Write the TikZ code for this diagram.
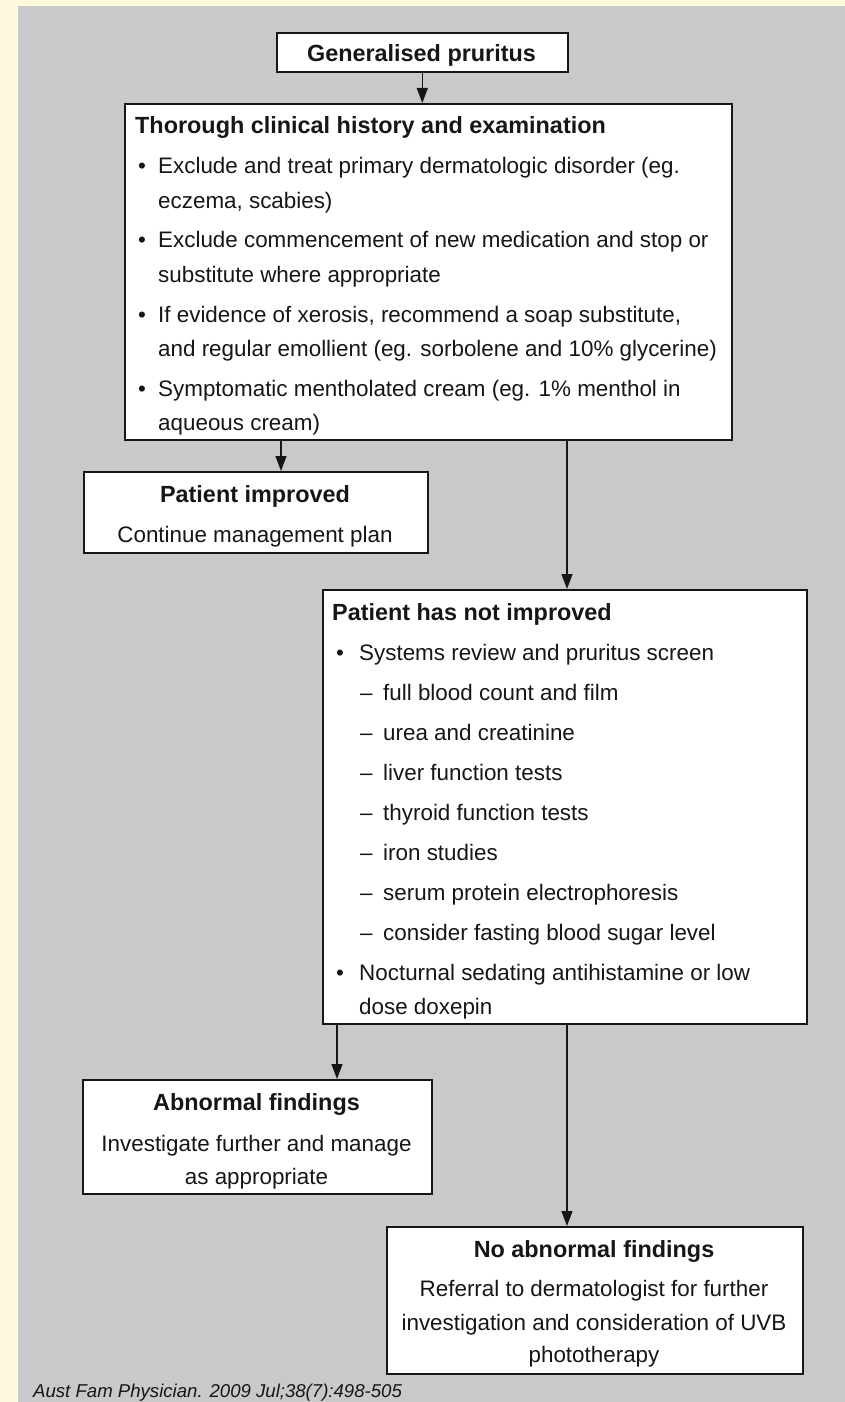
\documentclass[tikz,border=0pt]{standalone}
\usepackage{fontspec}
\setmainfont{Liberation Sans}
\usetikzlibrary{arrows.meta}
\definecolor{cream}{RGB}{255,249,222}
\definecolor{panel}{RGB}{200,201,203}
\definecolor{ink}{RGB}{22,22,22}
\newcommand\myreg{\fontsize{22.4}{26}\selectfont}
\newcommand\mybold{\fontsize{23.4}{27}\selectfont\bfseries}
\newcommand\mycite{\fontsize{18.6}{22}\selectfont\itshape}
\tikzset{
  box/.style={draw=ink, line width=1.6pt, fill=white, inner sep=0pt, anchor=north west},
  txt/.style={inner sep=0pt, anchor=base west, font=\myreg, text=ink},
  ttl/.style={inner sep=0pt, anchor=base west, font=\mybold, text=ink},
  ctxt/.style={inner sep=0pt, anchor=base, font=\myreg, text=ink},
  cttl/.style={inner sep=0pt, anchor=base, font=\mybold, text=ink},
  arr/.style={draw=ink, line width=1.3pt, -{Triangle[length=15pt,width=11pt]}},
}
\begin{document}
\begin{tikzpicture}[x=1pt,y=-1pt]
\fill[cream] (0,0) rectangle (845,1402);
\useasboundingbox (0,0) rectangle (845,1402);
\fill[panel] (18,6) rectangle (845,1402);

% boxes
\node[box, minimum width=291pt, minimum height=39pt]  (gen)    at (276,32)   {};
\node[box, minimum width=607pt, minimum height=336pt] (hist)   at (124,103)  {};
\node[box, minimum width=344pt, minimum height=81pt]  (imp)    at (83,471)   {};
\node[box, minimum width=484pt, minimum height=434pt] (notimp) at (322,589)  {};
\node[box, minimum width=349pt, minimum height=114pt] (abn)    at (82,1079)  {};
\node[box, minimum width=416pt, minimum height=147pt] (noabn)  at (386,1226) {};

% connector start points
\coordinate (c2) at (281,439);
\coordinate (c3) at (567,439);
\coordinate (c4) at (337,1023);
\coordinate (c5) at (567,1023);

% connectors
\draw[arr] (gen.south) -- (gen.south |- hist.north);
\draw[arr] (c2) -- (c2 |- imp.north);
\draw[arr] (c3) -- (c3 |- notimp.north);
\draw[arr] (c4) -- (c4 |- abn.north);
\draw[arr] (c5) -- (c5 |- noabn.north);

% Generalised pruritus
\node[cttl] (gent) at (421.5,62) {Generalised pruritus};

% Thorough clinical history
\node[ttl] (histt) at (135,133) {Thorough clinical history and examination};
\node[txt] (hb1) at (138,173) {•};
\node[txt] (h1a) at (158,173) {Exclude and treat primary dermatologic disorder (eg.};
\node[txt] (h1b) at (158,208) {eczema, scabies)};
\node[txt] (hb2) at (138,247) {•};
\node[txt] (h2a) at (158,247) {Exclude commencement of new medication and stop or};
\node[txt] (h2b) at (158,282) {substitute where appropriate};
\node[txt] (hb3) at (138,322) {•};
\node[txt] (h3a) at (158,322) {If evidence of xerosis, recommend a soap substitute,};
\node[txt] (h3b) at (158,356) {and regular emollient (eg. sorbolene and 10\% glycerine)};
\node[txt] (hb4) at (138,396) {•};
\node[txt] (h4a) at (158,396) {Symptomatic mentholated cream (eg. 1\% menthol in};
\node[txt] (h4b) at (158,430) {aqueous cream)};

% Patient improved
\node[cttl] (impt) at (255,502) {Patient improved};
\node[ctxt] (imp1) at (255,542) {Continue management plan};

% Patient has not improved
\node[ttl] (nott) at (332,620) {Patient has not improved};
\node[txt] (nb1) at (336,660) {•};
\node[txt] (n1) at (359,660) {Systems review and pruritus screen};
\node[txt] (nd1) at (360,700) {–};
\node[txt] (n2) at (383,700) {full blood count and film};
\node[txt] (nd2) at (360,740) {–};
\node[txt] (n3) at (383,740) {urea and creatinine};
\node[txt] (nd3) at (360,780) {–};
\node[txt] (n4) at (383,780) {liver function tests};
\node[txt] (nd4) at (360,820) {–};
\node[txt] (n5) at (383,820) {thyroid function tests};
\node[txt] (nd5) at (360,860) {–};
\node[txt] (n6) at (383,860) {iron studies};
\node[txt] (nd6) at (360,900) {–};
\node[txt] (n7) at (383,900) {serum protein electrophoresis};
\node[txt] (nd7) at (360,940) {–};
\node[txt] (n8) at (383,940) {consider fasting blood sugar level};
\node[txt] (nb2) at (336,980) {•};
\node[txt] (n9) at (359,980) {Nocturnal sedating antihistamine or low};
\node[txt] (n10) at (359,1014) {dose doxepin};

% Abnormal findings
\node[cttl] (abnt) at (256.5,1110) {Abnormal findings};
\node[ctxt] (abn1) at (256.5,1151) {Investigate further and manage};
\node[ctxt] (abn2) at (256.5,1184) {as appropriate};

% No abnormal findings
\node[cttl] (noabnt) at (594,1257) {No abnormal findings};
\node[ctxt] (noabn1) at (594,1296) {Referral to dermatologist for further};
\node[ctxt] (noabn2) at (594,1330) {investigation and consideration of UVB};
\node[ctxt] (noabn3) at (594,1362) {phototherapy};

% citation
\node[inner sep=0pt, anchor=base west, font=\mycite, text=ink] (cite) at (33,1397) {Aust Fam Physician. 2009 Jul;38(7):498-505};
\end{tikzpicture}
\end{document}
